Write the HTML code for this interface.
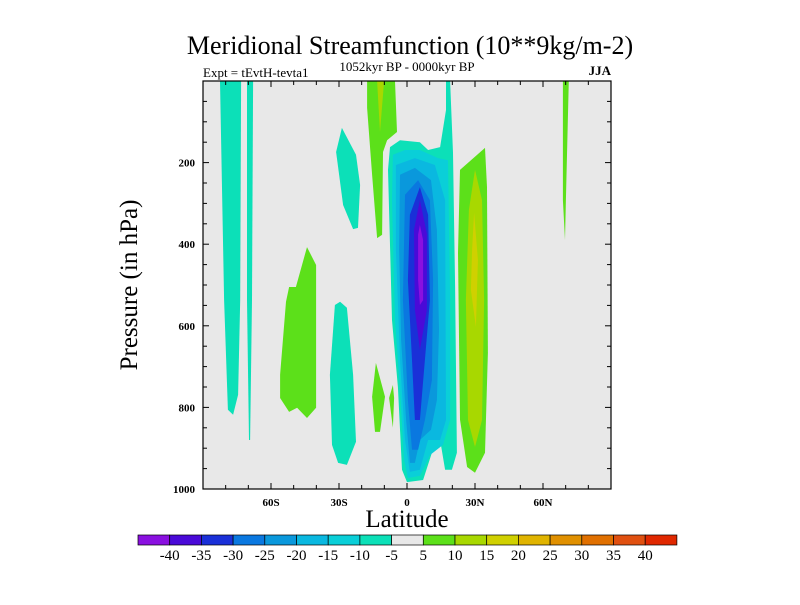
<!DOCTYPE html>
<html><head><meta charset="utf-8"><style>
body{margin:0;background:#fff;}
svg text{font-family:"Liberation Serif",serif;fill:#000;}
</style></head><body>
<svg id="chart" width="800" height="600" viewBox="0 0 800 600">
<text x="410" y="54" text-anchor="middle" font-size="26">Meridional Streamfunction (10**9kg/m-2)</text>
<text x="203" y="77" font-size="13">Expt = tEvtH-tevta1</text>
<text x="407" y="71" text-anchor="middle" font-size="13">1052kyr BP - 0000kyr BP</text>
<text x="611" y="75" text-anchor="end" font-size="13" font-weight="bold">JJA</text>
<rect x="203" y="81" width="408" height="408" fill="#e8e8e8"/>
<g id="fills"></g>
<g id="axes"></g>
<text x="407" y="527" text-anchor="middle" font-size="25">Latitude</text>
<text transform="translate(137,285) rotate(-90)" text-anchor="middle" font-size="25">Pressure (in hPa)</text>
<g id="cbar"></g>
</svg>
<script>
const levelColors=["#8a10e0","#4a0ad8","#1a30d8","#0a78e0","#0a98dc","#0ab8e0","#0acfd8","#0ce0b8","#e8e8e8","#5ce01a","#a8d800","#d0d000","#e0b400","#e09000","#e07000","#e05010","#e02800"];
const levelLabels=["-40","-35","-30","-25","-20","-15","-10","-5","5","10","15","20","25","30","35","40"];
const xTicks=[-60,-30,0,30,60];
const xTickLabels=["60S","30S","0","30N","60N"];
const yTicks=[200,400,600,800,1000];
// contour regions: level index into levelColors, points [lat, hPa]
const regions=[
 {lev:7,pts:[[-82.5,0],[-73.2,0],[-73.6,537],[-74.5,769],[-76.7,818],[-79,806],[-80.7,537]]},
 {lev:7,pts:[[-70.6,0],[-67.9,0],[-68.4,537],[-69.2,880],[-69.7,880],[-70.6,537]]},
 {lev:9,pts:[[-44.1,407],[-40.1,451],[-40.1,801],[-44.1,826],[-48.5,801],[-52,811],[-56,777],[-56,720],[-53.4,541],[-52,505],[-49,505]]},
 {lev:7,pts:[[-28.7,115],[-22.5,181],[-20.7,255],[-21.6,360],[-23.8,363],[-28.2,304],[-31.3,174]]},
 {lev:7,pts:[[-29.5,541],[-26.5,556],[-23.8,720],[-22.5,884],[-26.5,941],[-30.4,936],[-33.1,892],[-34,720],[-31.8,549]]},
 {lev:9,pts:[[-17.6,0],[-5.3,0],[-4.4,125],[-8.8,145],[-10.6,174],[-11,377],[-13.2,385],[-15.4,230],[-17.6,66]]},
 {lev:10,pts:[[-13.2,0],[-10.1,0],[-11.9,125]]},
 {lev:9,pts:[[-13.7,691],[-9.7,774],[-11.9,860],[-14.1,860],[-15.4,774]]},
 {lev:9,pts:[[-6.2,745],[-5.7,777],[-6.2,850],[-7.9,777]]},
 {lev:9,pts:[[68.8,0],[71.4,0],[70.1,292],[69.7,390],[68.8,292]]},
 {lev:7,pts:[[-7.5,162],[-3.1,145],[5.7,150],[9.3,169],[14.6,162],[17.2,71],[17.2,0],[19,0],[20.3,176],[21.2,505],[22,911],[19.8,953],[16.8,953],[14.6,880],[12.3,867],[11,911],[7.1,978],[0,983],[-2.2,953],[-4,750],[-6.6,586],[-8.4,218]]},
 {lev:6,pts:[[-6.2,181],[-0.9,169],[5.7,169],[13.7,189],[18.1,194],[19,537],[19,831],[15.9,892],[10.1,917],[5.7,968],[0.4,973],[-1.3,929],[-3.1,757],[-5.3,586],[-6.6,292]]},
 {lev:5,pts:[[-4.9,206],[3.5,189],[12.3,206],[16.8,292],[17.2,831],[14.6,880],[9.3,880],[5.7,953],[1.3,958],[-0.9,880],[-3.1,684],[-4.9,414]]},
 {lev:4,pts:[[-3.1,230],[3.5,213],[10.6,243],[13.2,365],[14.1,610],[13.2,782],[10.6,855],[5.7,880],[3.5,936],[1.3,936],[-0.4,831],[-2.6,635],[-3.5,414]]},
 {lev:3,pts:[[-0.9,279],[4.9,243],[10.1,292],[11.5,488],[11,733],[7.9,831],[4.9,904],[2.2,904],[0.4,782],[-1.8,537]]},
 {lev:2,pts:[[1.3,328],[5.7,260],[9.3,328],[10.1,537],[7.9,684],[5.7,831],[3.5,831],[2.2,684],[0.4,488]]},
 {lev:1,pts:[[3.1,365],[5.7,292],[8.8,375],[8.8,561],[5.7,659],[3.5,561]]},
 {lev:0,pts:[[4.9,377],[5.7,353],[7.1,390],[7.1,537],[5.7,549],[4.9,488]]},
 {lev:9,pts:[[23.4,218],[34.4,164],[35.3,260],[35.7,666],[34.4,911],[30,960],[26.5,946],[23.4,830],[22.5,421]]},
 {lev:10,pts:[[30,218],[33.1,292],[34,537],[33.1,831],[30,897],[26.9,831],[26,537],[27.3,316]]},
 {lev:11,pts:[[29.6,323],[31.3,439],[30.4,603],[28.2,512],[28.7,414]]}
];
const X0=203,X1=611,Y0=81,Y1=489;
function xs(lat){return X0+(lat+90)/180*(X1-X0);}
function ys(p){return Y0+p/1000*(Y1-Y0);}
const NS="http://www.w3.org/2000/svg";
function mk(tag,attrs,parent){const e=document.createElementNS(NS,tag);for(const k in attrs)e.setAttribute(k,attrs[k]);parent.appendChild(e);return e;}
const fills=document.getElementById('fills');
regions.forEach((r,i)=>{
 const e=mk('polygon',{points:r.pts.map(p=>xs(p[0]).toFixed(1)+','+ys(p[1]).toFixed(1)).join(' '),fill:levelColors[r.lev]},fills);
 
 
});
const ax=document.getElementById('axes');
const fr=mk('rect',{x:X0,y:Y0,width:X1-X0,height:Y1-Y0,fill:'none',stroke:'#000','stroke-width':1.2},ax);


for(let lat=-80;lat<=80;lat+=10){
 const L=(lat%30===0)?6:4;
 mk('line',{x1:xs(lat),x2:xs(lat),y1:Y1,y2:Y1-L,stroke:'#000'},ax);
 mk('line',{x1:xs(lat),x2:xs(lat),y1:Y0,y2:Y0+L,stroke:'#000'},ax);
}
for(let p=50;p<1000;p+=50){
 const L=(p%200===0)?6:4;
 mk('line',{x1:X0,x2:X0+L,y1:ys(p),y2:ys(p),stroke:'#000'},ax);
 mk('line',{x1:X1,x2:X1-L,y1:ys(p),y2:ys(p),stroke:'#000'},ax);
}
xTicks.forEach((v,i)=>{
 const t=mk('text',{x:xs(v),y:Y1+17,'text-anchor':'middle','font-size':11,'font-weight':'bold'},ax);
 t.textContent=xTickLabels[i];
 
 
});
yTicks.forEach(v=>{
 const t=mk('text',{x:X0-8,y:ys(v)+4,'text-anchor':'end','font-size':11,'font-weight':'bold'},ax);
 t.textContent=v;
 
 
});
const cb=document.getElementById('cbar');
const CX=138,CW=31.7,CY=535,CH=10;
levelColors.forEach((c,i)=>{
 const r=mk('rect',{x:CX+i*CW,y:CY,width:CW,height:CH,fill:c,stroke:'#000','stroke-width':0.7},cb);
 
 
});
levelLabels.forEach((l,i)=>{
 const t=mk('text',{x:CX+(i+1)*CW,y:CY+CH+15,'text-anchor':'middle','font-size':15},cb);
 t.textContent=l;
 
 
});
</script>
</body></html>
